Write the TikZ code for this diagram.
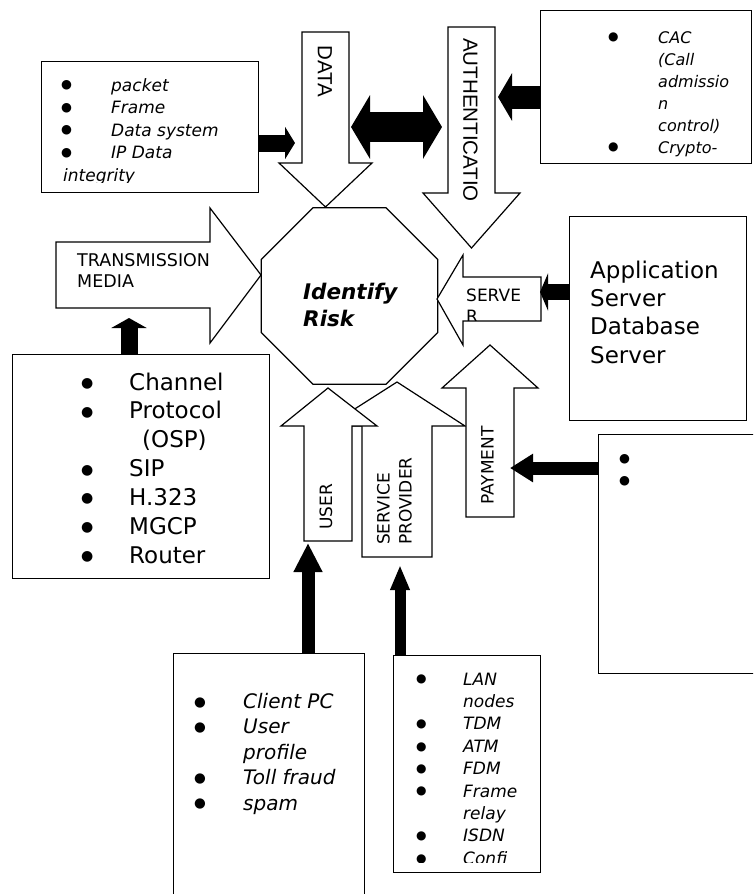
\documentclass[tikz,border=0pt]{standalone}
\usepackage{fontspec}
\usepackage{array}
\setmainfont{DejaVu Sans}[ItalicFont={DejaVu Sans Oblique},BoldFont={DejaVu Sans Bold},BoldItalicFont={DejaVu Sans Bold Oblique}]
\newfontfamily\arialfont{Liberation Sans}
\usetikzlibrary{arrows.meta,shapes.geometric}

\newcommand\fs[2]{\fontsize{#1}{#2}\selectfont}
% list marker: a black disc set at the given size
\newcommand\bul[1]{{\upshape\fontsize{#1}{#1}\selectfont\raisebox{0.18em}{●}}}

\tikzset{
  outline/.style={draw=black, line width=1.2pt, line join=miter},
  blockarrow/.style={outline, fill=white},
  box/.style={outline, fill=white, anchor=north west, inner sep=0pt},
  txt/.style={inner sep=0pt, anchor=base west, text=black},
  vlabel/.style={inner sep=0pt, anchor=west, rotate=90, font=\fs{17}{20}},
  dlabel/.style={inner sep=0pt, anchor=west, rotate=-90, font=\arialfont\fs{20.5}{24}},
  fat/.style args={#1/#2/#3}{draw=black, line width=#1, -{Triangle[width=#2,length=#3]}},
}

\begin{document}
\begin{tikzpicture}[x=1pt,y=-1pt]
\useasboundingbox (0,0) rectangle (753,894);
\clip (0,0) rectangle (753,894);
\fill[white] (0,0) rectangle (753,894);

% ---------- central octagon ----------
\node[regular polygon, regular polygon sides=8, minimum size=191pt, outline, inner sep=0pt] (risk) at (349.5,296) {};
\node[txt, font={\bfseries\itshape\fs{21.5}{27}}] (risktxt) at (303,299)
  {\begin{tabular}[t]{@{}l@{}}Identify\\Risk\end{tabular}};

% ---------- information boxes ----------
\node[box, minimum width=217pt, minimum height=131pt] (dbox)   at (41,61)   {};
\node[box, minimum width=211pt, minimum height=153pt] (cbox)   at (540,10)  {};
\node[box, minimum width=257pt, minimum height=224pt] (chbox)  at (12,354)  {};
\node[box, minimum width=177pt, minimum height=204pt] (appbox) at (569,216) {};
\node[box, minimum width=180pt, minimum height=239pt] (paybox) at (598,434) {};
\node[box, minimum width=191pt, minimum height=260pt] (clbox)  at (173,653) {};
\node[box, minimum width=147pt, minimum height=217pt] (spbox)  at (393,655) {};

% data items
\begin{scope}
  \clip (42,62) rectangle (257,182);
  \node[txt, font=\fs{17}{22.5}] (dlist) at (61,91) {\begin{tabular}[t]{@{}p{50pt}@{}>{\itshape}l@{}}
    \bul{12.5} & packet\\
    \bul{12.5} & Frame\\
    \bul{12.5} & Data system\\
    \bul{12.5} & IP Data\\
    \multicolumn{2}{@{}l@{}}{\hspace{2pt}\itshape integrity}
  \end{tabular}};
\end{scope}

% authentication items
\node[txt, font=\fs{16}{22}] (clist) at (608,43) {\begin{tabular}[t]{@{}p{50pt}@{}>{\itshape}l@{}}
  \bul{12} & CAC\\
   & (Call\\
   & admissio\\
   & n\\
   & control)\\
  \bul{12} & Crypto-
\end{tabular}};

% transmission items
\node[txt, font=\fs{23}{28.85}] (chlist) at (81,390) {\begin{tabular}[t]{@{}p{48pt}@{}l@{}}
  \bul{14} & Channel\\
  \bul{14} & Protocol\\
   & \hspace{13pt}(OSP)\\
  \bul{14} & SIP\\
  \bul{14} & H.323\\
  \bul{14} & MGCP\\
  \bul{14} & Router
\end{tabular}};

% server items
\node[txt, font=\fs{23}{28.4}] (applist) at (590,278) {\begin{tabular}[t]{@{}l@{}}
  Application\\ Server\\ Database\\ Server
\end{tabular}};

% payment items
\node[txt, font=\fs{17}{22}] (paylist) at (619,464.5) {\begin{tabular}[t]{@{}l@{}}
  \bul{12.5}\\ \bul{12.5}
\end{tabular}};

% user items
\node[txt, font=\fs{20}{25.4}] (cllist) at (194,708.5) {\begin{tabular}[t]{@{}p{49pt}@{}>{\itshape}l@{}}
  \bul{13.5} & Client PC\\
  \bul{13.5} & User\\
   & profile\\
  \bul{13.5} & Toll fraud\\
  \bul{13.5} & spam
\end{tabular}};

% service provider items
\begin{scope}
  \clip (394,656) rectangle (539,862);
  \node[txt, font=\fs{17}{22.4}] (splist) at (416,685) {\begin{tabular}[t]{@{}p{47pt}@{}>{\itshape}l@{}}
    \bul{12} & LAN\\
     & nodes\\
    \bul{12} & TDM\\
    \bul{12} & ATM\\
    \bul{12} & FDM\\
    \bul{12} & Frame\\
     & relay\\
    \bul{12} & ISDN\\
    \bul{12} & Confi
  \end{tabular}};
\end{scope}

% ---------- block arrows pointing at the risk ----------
% transmission media
\draw[blockarrow] (56,242) -- (210,242) -- (210,208) -- (261,275) -- (210,343) -- (210,308) -- (56,308) -- cycle;
\node[txt, font=\fs{17.5}{21}] (tmtxt) at (77,266)
  {\begin{tabular}[t]{@{}l@{}}TRANSMISSION\\MEDIA\end{tabular}};

% data
\draw[blockarrow] (302,32) -- (349,32) -- (349,163) -- (372,163) -- (325.5,207) -- (279,163) -- (302,163) -- cycle;
\node[dlabel] (datatxt) at (325,45) {DATA};

% authentication
\draw[blockarrow] (448,27) -- (495,27) -- (495,193) -- (520,193) -- (471.5,248) -- (423,193) -- (448,193) -- cycle;
\node[dlabel] (authtxt) at (470.5,38) {AUTHENTICATIO};

% server
\draw[blockarrow] (541,277) -- (463,277) -- (463,255) -- (437,299) -- (463,345) -- (463,321) -- (541,321) -- cycle;
\begin{scope}
  \clip (464,278) rectangle (540,320);
  \node[txt, font=\fs{17}{21.5}] (srvtxt) at (466,301)
    {\begin{tabular}[t]{@{}l@{}}SERVE\\R\end{tabular}};
\end{scope}

% service provider (partly behind the user arrow)
\draw[blockarrow] (362,557) -- (432,557) -- (432,426) -- (465,426) -- (397,382) -- (328,426) -- (362,426) -- cycle;
\node[vlabel] (sptxt1) at (383.5,545) {SERVICE};
\node[vlabel] (sptxt2) at (405.5,545) {PROVIDER};

% user
\draw[blockarrow] (304,541) -- (352,541) -- (352,426) -- (377,426) -- (328,388) -- (281,426) -- (304,426) -- cycle;
\node[vlabel] (usertxt) at (326,530) {USER};

% payment
\draw[blockarrow] (466,517) -- (514,517) -- (514,388) -- (538,388) -- (490,345) -- (442,388) -- (466,388) -- cycle;
\node[vlabel] (paytxt) at (487.5,505) {PAYMENT};

% ---------- black connectors ----------
\coordinate (dataIn) at (295,143);
\coordinate (dataOut) at (351,127);
\coordinate (authIn) at (442,127);
\coordinate (authR) at (498,97);
\coordinate (tmIn) at (129,318);
\coordinate (srvIn) at (540,292);
\coordinate (userIn) at (308,543);
\coordinate (spIn) at (400,565);
\coordinate (payIn) at (510,468);

\draw[fat={17pt/32pt/10pt}] (dbox.east |- dataIn) -- (dataIn);
\draw[line width=30pt, {Triangle[width=63pt,length=19pt]}-{Triangle[width=63pt,length=19pt]}] (dataOut) -- (authIn);
\draw[fat={23pt/47pt/14pt}] (cbox.west |- authR) -- (authR);
\draw[fat={17pt/35pt/10pt}] (chbox.north -| tmIn) -- (tmIn);
\draw[fat={16pt/37pt/8pt}] (appbox.west |- srvIn) -- (srvIn);
\draw[fat={13pt/27pt/29pt}] (clbox.north -| userIn) -- (userIn);
\draw[fat={11pt/18pt/25pt}] (spbox.north -| spIn) -- (spIn);
\draw[fat={13pt/27pt/23pt}] (paybox.west |- payIn) -- (payIn);
\end{tikzpicture}
\end{document}
